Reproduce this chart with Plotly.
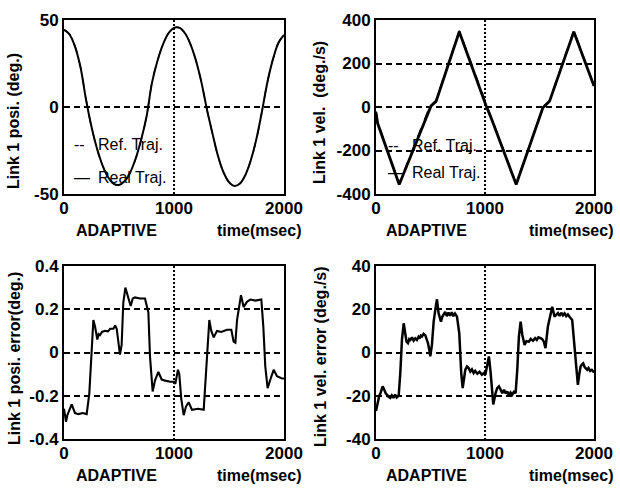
import plotly.graph_objects as go

# ---------------- data ----------------
time_ms = [0, 50, 100, 150, 200, 250, 300, 350, 400, 450, 500, 550, 600, 650,
           700, 750, 800, 850, 900, 950, 1000, 1050, 1100, 1150, 1200, 1250,
           1300, 1350, 1400, 1450, 1500, 1550, 1600, 1650, 1700, 1750, 1800,
           1850, 1900, 1950, 2000]
ref_pos = [44.5, 42.0, 35.0, 23.0, 4.5, -11.5, -24.0, -33.6, -40.3, -44.1,
           -44.9, -42.9, -38.0, -30.1, -19.3, -5.7, 14.1, 26.7, 36.1, 42.5,
           45.6, 45.6, 42.5, 36.1, 26.7, 14.1, -1.7, -15.4, -28.3, -37.6,
           -43.3, -45.5, -44.0, -39.0, -30.4, -18.3, -2.5, 14.6, 27.6, 37.0, 41.5]
real_pos = [44.3, 41.7, 34.7, 22.8, 4.3, -11.4, -23.9, -33.5, -40.2, -44.0,
            -44.8, -42.7, -37.8, -29.9, -19.1, -5.6, 14.0, 26.6, 36.0, 42.4,
            45.5, 45.5, 42.4, 36.0, 26.6, 14.0, -1.6, -15.3, -28.2, -37.5,
            -43.2, -45.4, -43.9, -38.9, -30.2, -18.1, -2.4, 14.5, 27.5, 36.9, 41.4]

vel_t = [0, 15, 213, 491, 505, 551, 764, 1010, 1056, 1286, 1531, 1592, 1815, 2000]
ref_vel = [-20, -70, -351, 0, 8, 30, 351, 10, -46, -351, 0, 30, 351, 100]
real_vel = [-25, -75, -356, -4, 5, 26, 346, 6, -50, -356, -4, 26, 346, 96]

pos_err_t = [0, 18, 30, 70, 100, 130, 170, 206, 230, 252, 267, 282, 303, 315,
             327, 345, 373, 400, 420, 449, 465, 479, 494, 509, 524, 539, 558,
             579, 606, 625, 645, 690, 736, 767, 782, 806, 827, 858, 888, 920,
             964, 1000, 1012, 1036, 1048, 1066, 1088, 1109, 1133, 1164, 1220,
             1270, 1285, 1303, 1321, 1339, 1361, 1391, 1430, 1482, 1521, 1542,
             1558, 1573, 1588, 1609, 1633, 1664, 1694, 1740, 1794, 1812, 1830,
             1851, 1876, 1906, 1936, 1982, 2000]
pos_err = [-0.26, -0.32, -0.29, -0.24, -0.28, -0.285, -0.28, -0.285, -0.19, 0.01,
           0.15, 0.12, 0.06, 0.085, 0.08, 0.095, 0.10, 0.098, 0.11, 0.11,
           0.125, 0.11, 0.04, -0.01, 0.035, 0.23, 0.30, 0.26, 0.215, 0.25,
           0.255, 0.25, 0.25, 0.185, -0.02, -0.18, -0.13, -0.09, -0.125, -0.13,
           -0.135, -0.135, -0.145, -0.08, -0.10, -0.215, -0.29, -0.25, -0.23, -0.265,
           -0.26, -0.265, -0.15, 0.03, 0.15, 0.10, 0.07, 0.10, 0.095, 0.105,
           0.105, 0.05, 0.045, 0.15, 0.195, 0.265, 0.21, 0.235, 0.245, 0.24,
           0.245, 0.12, -0.065, -0.165, -0.125, -0.08, -0.11, -0.12, -0.12]

vel_err_t = [0, 10, 18, 30, 40, 50, 61, 70, 79, 90,
             101, 115, 131, 145, 160, 175, 190, 208, 223, 238,
             254, 269, 280, 293, 305, 315, 330, 345, 360, 375,
             390, 400, 411, 422, 437, 452, 465, 477, 488, 498,
             513, 529, 544, 559, 574, 585, 596, 608, 620, 635,
             650, 665, 680, 695, 710, 725, 743, 764, 782, 795,
             808, 819, 835, 850, 865, 880, 896, 910, 930, 950,
             972, 990, 1003, 1021, 1036, 1052, 1076, 1097, 1112, 1128,
             1143, 1159, 1175, 1190, 1204, 1220, 1235, 1250, 1265, 1281,
             1296, 1311, 1327, 1342, 1363, 1380, 1403, 1420, 1440, 1460,
             1475, 1490, 1510, 1525, 1540, 1555, 1577, 1595, 1617, 1638,
             1655, 1669, 1685, 1700, 1715, 1730, 1745, 1760, 1775, 1790,
             1800, 1821, 1840, 1852, 1865, 1877, 1890, 1901, 1915, 1928,
             1938, 1950, 1965, 1980, 1993, 2000]
vel_err = [-27, -24, -22, -20, -19, -17, -15.7, -16.5, -18, -19,
           -19.5, -20.5, -21, -19.8, -21, -19.5, -20.8, -20, -9.5, 5.8,
           13.5, 8, 5, 4.3, 6.2, 5.8, 7, 5.5, 6.5, 5.8,
           7.2, 6.5, 7.8, 7.4, 8.6, 8, 6.5, 4.3, 1.5, -1.8,
           3.5, 14.3, 19.7, 24.6, 18.2, 15.5, 14.3, 16.5, 17.4, 18.8,
           16.8, 18.5, 17, 18.6, 16.8, 18, 16.6, 8.9, -9.5, -16.5,
           -12, -8, -6.5, -7.2, -8.8, -7.8, -9.5, -8.5, -9.8, -8.9,
           -10.3, -9.5, -10.3, -5, -1.8, -9.5, -24, -18.8, -16.5, -15.7,
           -17.5, -18.8, -17.2, -19, -18, -19.8, -18.5, -19.5, -18.2, -18.8,
           -8, 7.4, 14.3, 8.2, 3.5, 5.2, 5, 6.3, 5.4, 6.6,
           5.8, 7, 6.6, 6.2, 5, 2, 12, 15.8, 21.2, 16.6,
           17.8, 18.2, 16.9, 18.4, 17.2, 18.1, 16.8, 17.6, 16.5, 15.8,
           15, 2.8, -8, -15, -10, -6.5, -5.5, -5, -6.8, -7.5,
           -8, -7.2, -8.5, -8, -8.8, -8.5]

x_ticks = [0, 1000, 2000]
x_tick_labels = ["0", "1000", "2000"]
pos_ticks = [-50, 0, 50]
pos_tick_labels = ["-50", "0", "50"]
vel_ticks = [-400, -200, 0, 200, 400]
vel_tick_labels = ["-400", "-200", "0", "200", "400"]
pos_err_ticks = [-0.4, -0.2, 0, 0.2, 0.4]
pos_err_tick_labels = ["-0.4", "-0.2", "0", "0.2", "0.4"]
vel_err_ticks = [-40, -20, 0, 20, 40]
vel_err_tick_labels = ["-40", "-20", "0", "20", "40"]

y_titles = ["Link 1 posi. (deg.)", "Link 1 vel.  (deg./s)",
            "Link 1 posi. error(deg.)", "Link 1 vel. error (deg./s)"]
series_names = ["Ref. Traj.", "Real Traj."]
legend_marks = ["--", "\u2014"]
x_left_label = "ADAPTIVE"
x_right_label = "time(msec)"

# ---------------- layout helpers ----------------
W, H = 620, 489
FONT = "Liberation Sans, Arial, sans-serif"


def xdom(a, b):
    return [a / W, b / W]


def ydom(top, bottom):
    return [1 - bottom / H, 1 - top / H]


def px(x, y):
    return x / W, 1 - y / H


LEFT = (64, 284)
RIGHT = (376, 594)
TOP = (20, 194)
BOT = (266, 439)

fig = go.Figure()
black = "black"

# top-left: position
fig.add_trace(go.Scatter(x=time_ms, y=ref_pos, mode="lines", name=series_names[0],
                         line=dict(color=black, width=1.4, dash="dash", shape="spline"),
                         xaxis="x", yaxis="y", showlegend=False))
fig.add_trace(go.Scatter(x=time_ms, y=real_pos, mode="lines", name=series_names[1],
                         line=dict(color=black, width=2.0, shape="spline"),
                         xaxis="x", yaxis="y", showlegend=False))
# top-right: velocity
fig.add_trace(go.Scatter(x=vel_t, y=ref_vel, mode="lines", name=series_names[0],
                         line=dict(color=black, width=1.5, dash="dash"),
                         xaxis="x2", yaxis="y2", showlegend=False))
fig.add_trace(go.Scatter(x=vel_t, y=real_vel, mode="lines", name=series_names[1],
                         line=dict(color=black, width=2.8),
                         xaxis="x2", yaxis="y2", showlegend=False))
# bottom-left: position error
fig.add_trace(go.Scatter(x=pos_err_t, y=pos_err, mode="lines", showlegend=False,
                         line=dict(color=black, width=2.1),
                         xaxis="x3", yaxis="y3"))
# bottom-right: velocity error
fig.add_trace(go.Scatter(x=vel_err_t, y=vel_err, mode="lines", showlegend=False,
                         line=dict(color=black, width=2.5),
                         xaxis="x4", yaxis="y4"))

tickfont = dict(family=FONT, size=17, color="black", weight="bold")


def xaxis(domain, anchor):
    return dict(domain=domain, anchor=anchor, range=[0, 2000], automargin=False,
                tickmode="array", tickvals=x_ticks, ticktext=x_tick_labels,
                showgrid=True, gridcolor="black", gridwidth=1.5, griddash="2px,2px",
                showline=True, mirror=True, linecolor="black", linewidth=2,
                zeroline=False, ticks="", tickfont=tickfont, fixedrange=True,
                ticklabelstandoff=-2)


def yaxis(domain, anchor, rng, vals, labels):
    return dict(domain=domain, anchor=anchor, range=rng, automargin=False,
                tickmode="array", tickvals=vals, ticktext=labels,
                showgrid=True, gridcolor="black", gridwidth=1.5, griddash="6px,4px",
                showline=True, mirror=True, linecolor="black", linewidth=2,
                zeroline=False, ticks="", tickfont=tickfont, fixedrange=True)


fig.update_layout(
    template="none",
    width=W, height=H,
    margin=dict(l=0, r=0, t=0, b=0, autoexpand=False),
    paper_bgcolor="white", plot_bgcolor="white",
    showlegend=False,
    xaxis=xaxis(xdom(*LEFT), "y"),
    yaxis=yaxis(ydom(*TOP), "x", [-50, 50], pos_ticks, pos_tick_labels),
    xaxis2=xaxis(xdom(*RIGHT), "y2"),
    yaxis2=yaxis(ydom(*TOP), "x2", [-400, 400], vel_ticks, vel_tick_labels),
    xaxis3=xaxis(xdom(*LEFT), "y3"),
    yaxis3=yaxis(ydom(*BOT), "x3", [-0.4, 0.4], pos_err_ticks, pos_err_tick_labels),
    xaxis4=xaxis(xdom(*RIGHT), "y4"),
    yaxis4=yaxis(ydom(*BOT), "x4", [-40, 40], vel_err_ticks, vel_err_tick_labels),
)

label_font = dict(family=FONT, size=16, color="black", weight="bold")
legend_font = dict(family=FONT, size=16, color="black")
annotations = []
# y-axis titles (rotated)
for text, cx, cy in [(y_titles[0], 14, 121), (y_titles[1], 319, 113),
                     (y_titles[2], 14, 359), (y_titles[3], 320, 357)]:
    x, y = px(cx, cy)
    annotations.append(dict(text=text, x=x, y=y, xref="paper", yref="paper",
                            textangle=-90, showarrow=False, xanchor="center",
                            yanchor="middle", font=label_font))
# x-axis labels
for lx, rx, cy in [(116, 303, 230), (426, 615, 230), (116, 303, 475), (426, 615, 475)]:
    x, y = px(lx, cy)
    annotations.append(dict(text=x_left_label, x=x, y=y, xref="paper",
                            yref="paper", showarrow=False, xanchor="center",
                            yanchor="middle", font=label_font))
    x, y = px(rx, cy)
    annotations.append(dict(text=x_right_label, x=x, y=y, xref="paper",
                            yref="paper", showarrow=False, xanchor="right",
                            yanchor="middle", font=label_font))
# legend keys inside the top panels: mark + label
for mx, tx, ys in [(72, 96, (144, 177)), (386, 410, (145, 172))]:
    for mark, name, cy in zip(legend_marks, series_names, ys):
        x, y = px(mx, cy)
        annotations.append(dict(text=mark, x=x, y=y, xref="paper", yref="paper",
                                showarrow=False, xanchor="left", yanchor="middle",
                                font=legend_font))
        x, y = px(tx, cy)
        annotations.append(dict(text=name, x=x, y=y, xref="paper", yref="paper",
                                showarrow=False, xanchor="left", yanchor="middle",
                                font=legend_font))
fig.update_layout(annotations=annotations)

fig.write_html("out.html", config={"displayModeBar": False},
               post_script="document.body.style.margin='0';"
                           "document.body.style.overflow='hidden';")
